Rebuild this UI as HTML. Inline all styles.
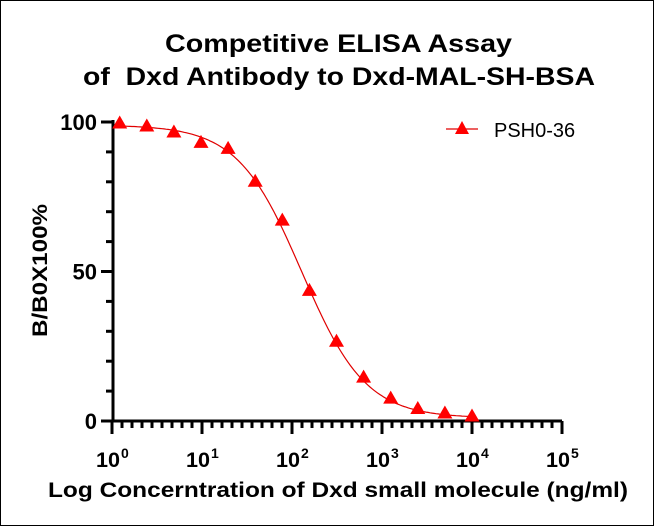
<!DOCTYPE html>
<html><head><style>
html,body{margin:0;padding:0;background:#fff;}
svg{display:block;font-family:"Liberation Sans",Arial,sans-serif;}
</style></head><body>
<svg id="s" width="654" height="526" viewBox="0 0 654 526">
<rect x="0.5" y="0.5" width="653" height="525" fill="#fff" stroke="#000"/>
<text x="165" y="52" font-size="25" font-weight="bold" textLength="347" lengthAdjust="spacingAndGlyphs">Competitive ELISA Assay</text>
<text x="83" y="85" font-size="25" font-weight="bold" textLength="512" lengthAdjust="spacingAndGlyphs" xml:space="preserve">of  Dxd Antibody to Dxd-MAL-SH-BSA</text>
<text transform="translate(47,337) rotate(-90)" font-size="21" font-weight="bold" textLength="133" lengthAdjust="spacingAndGlyphs">B/B0X100%</text>
<text x="48" y="497" font-size="21" font-weight="bold" textLength="580" lengthAdjust="spacingAndGlyphs">Log Concerntration of Dxd small molecule (ng/ml)</text>
<g id="ax" stroke="#000" stroke-width="3" fill="none"></g>
<g id="tl" font-size="21" font-weight="bold"></g>
<path id="cv" fill="none" stroke="#e00000" stroke-width="1.2"/>
<g id="pts" fill="#ff0000"></g>
<line x1="446" y1="129" x2="478" y2="129" stroke="#e00000" stroke-width="1.2"/>
<path d="M462,121 L469,134 L455,134 Z" fill="#ff0000"/>
<text x="494" y="137" font-size="20">PSH0-36</text>
</svg>
<script>
const X0=112,D=90,Y0=421,K=2.99;
const ax=document.getElementById('ax'),tl=document.getElementById('tl');
let a='';
a+=`<path d="M113,120 L113,421 L562,421"/>`;
for(let v=0;v<=100;v+=10){const y=Y0-v*K;const L=(v%50==0)?12:7;a+=`<line x1="${113-L}" y1="${y}" x2="113" y2="${y}"/>`;}
for(let d=0;d<=5;d++){const x=X0+d*D;a+=`<line x1="${x}" y1="421" x2="${x}" y2="434"/>`;
 if(d<5)for(let i=1;i<9;i++){const xx=X0+d*D+i*D/9;a+=`<line x1="${xx}" y1="421" x2="${xx}" y2="428"/>`;}}
ax.innerHTML=a;
let t='';
[[0,'0'],[50,'50'],[100,'100']].forEach(([v,s])=>{t+=`<text x="97" y="${Y0-v*K+8}" text-anchor="end" font-size="22">${s}</text>`;});
for(let d=0;d<=5;d++){const x=X0+d*D;t+=`<text x="${x-16}" y="467" textLength="24" lengthAdjust="spacingAndGlyphs">10</text><text x="${x+9}" y="458" font-size="14">${d}</text>`;}
tl.innerHTML=t;
let p='';
for(let x=X0+8;x<=474;x+=2){const lx=(x-X0)/D;const c=Math.pow(10,lx);const v=1+(99-1)/(1+Math.pow(c/128,1.22));p+=(p?'L':'M')+x+','+(Y0-v*K).toFixed(1);}
document.getElementById('cv').setAttribute('d',p);
const ys=[99.5,98.5,96.5,93,91,80,67,43.5,26.5,14.5,7.5,4,2.5,1.5];
let q='';
ys.forEach((v,i)=>{const x=472-(13-i)*27.1;const y=Y0-v*K;q+=`<path d="M${x},${y-8} L${x+7.5},${y+5} L${x-7.5},${y+5} Z"/>`;});
document.getElementById('pts').innerHTML=q;
</script>
</body></html>
